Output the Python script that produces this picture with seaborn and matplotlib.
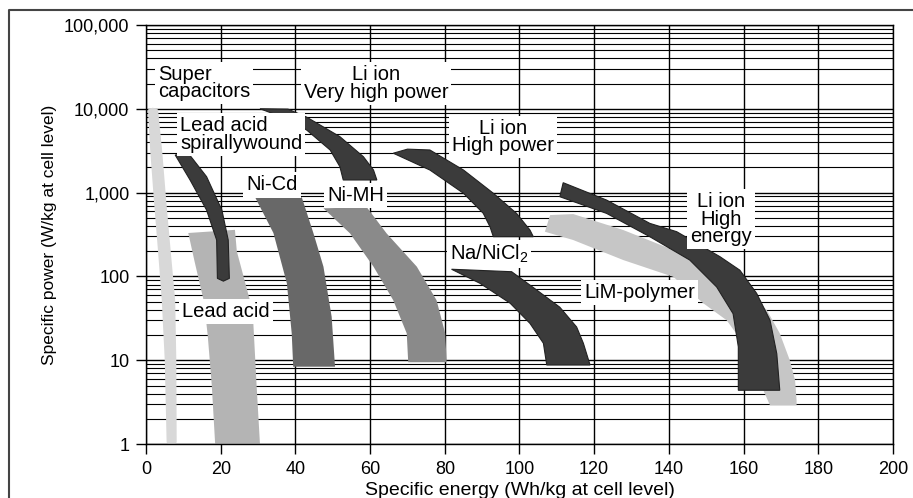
"""
Ragone plot: specific power vs specific energy for battery chemistries
and super capacitors, drawn as filled bands on a log power axis.
"""

import matplotlib

matplotlib.use("Agg")
import matplotlib.pyplot as plt
import seaborn as sns
from matplotlib.lines import Line2D
from matplotlib.ticker import FixedLocator, FuncFormatter, LogLocator, NullFormatter

# Band outlines: (energy Wh/kg, power W/kg), walked around each band
SUPERCAP_ENERGY = [0.5, 1.1, 2.1, 3.2, 4.2, 5.0, 5.5, 6.9, 8.2, 8.1, 7.8, 6.6, 5.4, 4.3, 3.2, 1.8]
SUPERCAP_POWER = [9800, 3200, 800, 200, 52, 10, 1.05, 0.95, 1.05, 10, 52, 200, 800, 3200, 9800, 10300]

LEAD_ACID_ENERGY = [11.3, 13.0, 15.5, 16.5, 17.6, 18.5, 30.5, 29.6, 28.7, 27.8, 24.3, 23.8]
LEAD_ACID_POWER = [330, 150, 50, 20, 5, 1, 1, 5, 29, 52, 200, 360]

SPIRAL_ENERGY = [7.8, 11.8, 16.2, 18.9, 19.1, 20.7, 22.3, 22.0, 20.3, 16.2, 11.3]
SPIRAL_POWER = [2810, 1410, 620, 272, 95, 88, 95, 272, 620, 1550, 2950]

NICD_ENERGY = [29.2, 34.1, 37.7, 39.0, 39.4, 50.6, 49.7, 47.5, 44.8, 41.7]
NICD_POWER = [880, 330, 83, 21, 8.4, 8.4, 33, 131, 330, 880]

NIMH_ENERGY = [47.5, 54.6, 60.9, 66.2, 69.8, 70.2, 80.5, 80.1, 77.8, 72.5, 64.4, 59.1]
NIMH_POWER = [650, 327, 131, 52, 21, 9.5, 9.5, 21, 52, 131, 327, 670]

LI_VHP_ENERGY = [30.5, 38.6, 43.0, 49.3, 51.9, 52.8, 61.8, 60.9, 58.2, 51.9, 43.0, 38.0]
LI_VHP_POWER = [10000, 7350, 5580, 3220, 2040, 1415, 1415, 1860, 2680, 4650, 7950, 9900]

LI_HP_ENERGY = [66.2, 76.0, 85.0, 90.3, 92.1, 93.0, 103.7, 102.8, 99.2, 93.0, 85.0, 76.0, 70.0]
LI_HP_POWER = [2950, 1860, 982, 566, 392, 298, 298, 358, 566, 982, 1860, 3225, 3300]

NA_ENERGY = [81.8, 89.4, 97.5, 102.8, 106.4, 107.3, 118.9, 117.1, 115.3, 110.8, 104.6, 97.9]
NA_POWER = [122, 83, 48, 27.6, 16, 8.8, 8.8, 16, 25, 43, 69, 114]

LIM_ENERGY = [106.8, 114.4, 127.8, 141.2, 149.2, 155.5, 159.9, 163.5, 165.3, 167.1, 174.2,
              174.2, 173.8, 172.4, 169.7, 166.2, 159.0, 150.1, 141.2, 127.8, 114.4, 108.2]
LIM_POWER = [342, 272, 157, 99, 48, 30, 16, 8.4, 4.4, 2.9, 2.9,
             3.35, 5.8, 10, 21, 40, 75, 131, 207, 358, 555, 540]

LI_HE_ENERGY = [110.8, 123.3, 134.9, 145.6, 152.8, 157.2, 158.6, 158.6, 169.7, 168.9, 167.1,
                163.5, 159.0, 153.7, 142.1, 134.9, 123.3, 111.7]
LI_HE_POWER = [894, 566, 298, 157, 75, 36, 14.5, 4.4, 4.4, 12, 30,
               63, 119, 172, 342, 430, 816, 1313]

X_TICKS = [0, 20, 40, 60, 80, 100, 120, 140, 160, 180, 200]
Y_TICKS = [1, 10, 100, 1000, 10000, 100000]

DARK = "#3b3b3b"


def main() -> None:
    sns.set_theme(style="white")
    plt.rcParams["font.family"] = ["Liberation Sans", "DejaVu Sans"]
    plt.rcParams["mathtext.fontset"] = "custom"
    plt.rcParams["mathtext.rm"] = "Liberation Sans"

    fig, ax = plt.subplots(figsize=(9.13, 4.98), dpi=100)
    fig.subplots_adjust(left=0.160, right=0.978, top=0.950, bottom=0.108)

    ax.set_yscale("log")
    ax.set_xlim(0, 200)
    ax.set_ylim(1, 1e5)

    # grid: every 20 Wh/kg and every log step
    ax.xaxis.set_major_locator(FixedLocator(X_TICKS))
    ax.yaxis.set_major_locator(FixedLocator(Y_TICKS))
    ax.yaxis.set_minor_locator(LogLocator(base=10, subs=range(2, 10)))
    ax.yaxis.set_minor_formatter(NullFormatter())
    ax.yaxis.set_major_formatter(FuncFormatter(lambda v, _: f"{v:,.0f}"))
    ax.grid(which="major", axis="both", color="black", lw=1.0)
    ax.grid(which="minor", axis="y", color="black", lw=0.8)
    ax.set_axisbelow(True)
    ax.tick_params(which="major", bottom=True, left=True, direction="out",
                   length=7, width=1, color="black", labelsize=13, pad=5,
                   labelcolor="black")
    ax.tick_params(which="minor", length=0)
    for spine in ax.spines.values():
        spine.set_color("black")
        spine.set_linewidth(1.0)

    bands = [
        (SUPERCAP_ENERGY, SUPERCAP_POWER, "#d8d8d8", "none"),
        (LEAD_ACID_ENERGY, LEAD_ACID_POWER, "#b4b4b4", "none"),
        (SPIRAL_ENERGY, SPIRAL_POWER, DARK, "#222222"),
        (NICD_ENERGY, NICD_POWER, "#686868", "none"),
        (NIMH_ENERGY, NIMH_POWER, "#8a8a8a", "none"),
        (LI_VHP_ENERGY, LI_VHP_POWER, DARK, "#222222"),
        (LI_HP_ENERGY, LI_HP_POWER, DARK, "#222222"),
        (NA_ENERGY, NA_POWER, DARK, "#222222"),
        (LIM_ENERGY, LIM_POWER, "#c6c6c6", "none"),
        (LI_HE_ENERGY, LI_HE_POWER, DARK, "#222222"),
    ]
    for i, (xs, ys, face, edge) in enumerate(bands):
        ax.fill(xs, ys, facecolor=face, edgecolor=edge, lw=0.8, zorder=2 + i * 0.1)

    box = dict(boxstyle="square,pad=0.15", fc="white", ec="none")
    labels = [
        (3.2, 20300, "Super\ncapacitors", "left"),
        (61.6, 19800, "Li ion\nVery high power", "center"),
        (9.1, 4900, "Lead acid\nspirallywound", "left"),
        (95.6, 4610, "Li ion\nHigh power", "center"),
        (33.7, 1233, "Ni-Cd", "center"),
        (56.2, 936, "Ni-MH", "center"),
        (154.0, 484, "Li ion\nHigh\nenergy", "center"),
        (91.8, 185, r"Na/NiCl$_\mathregular{2}$", "center"),
        (132.2, 65, "LiM-polymer", "center"),
        (21.4, 38.6, "Lead acid", "center"),
    ]
    for x, y, text, ha in labels:
        ax.text(x, y, text, ha=ha, va="center", ma=ha, fontsize=14.5,
                linespacing=0.92, color="black", bbox=box, zorder=5)

    ax.set_xlabel("Specific energy (Wh/kg at cell level)", fontsize=14,
                  labelpad=3, color="black")
    ax.set_ylabel("Specific power (W/kg at cell level)", fontsize=12.5,
                  labelpad=5, color="black")

    # page frame around the figure
    fig.add_artist(Line2D([9 / 913, 9 / 913, 1.0], [0.0, 1 - 10 / 498, 1 - 10 / 498],
                          transform=fig.transFigure, color="#444444", lw=1.5))

    fig.savefig("out.png", dpi=100)
    plt.close(fig)


if __name__ == "__main__":
    main()
